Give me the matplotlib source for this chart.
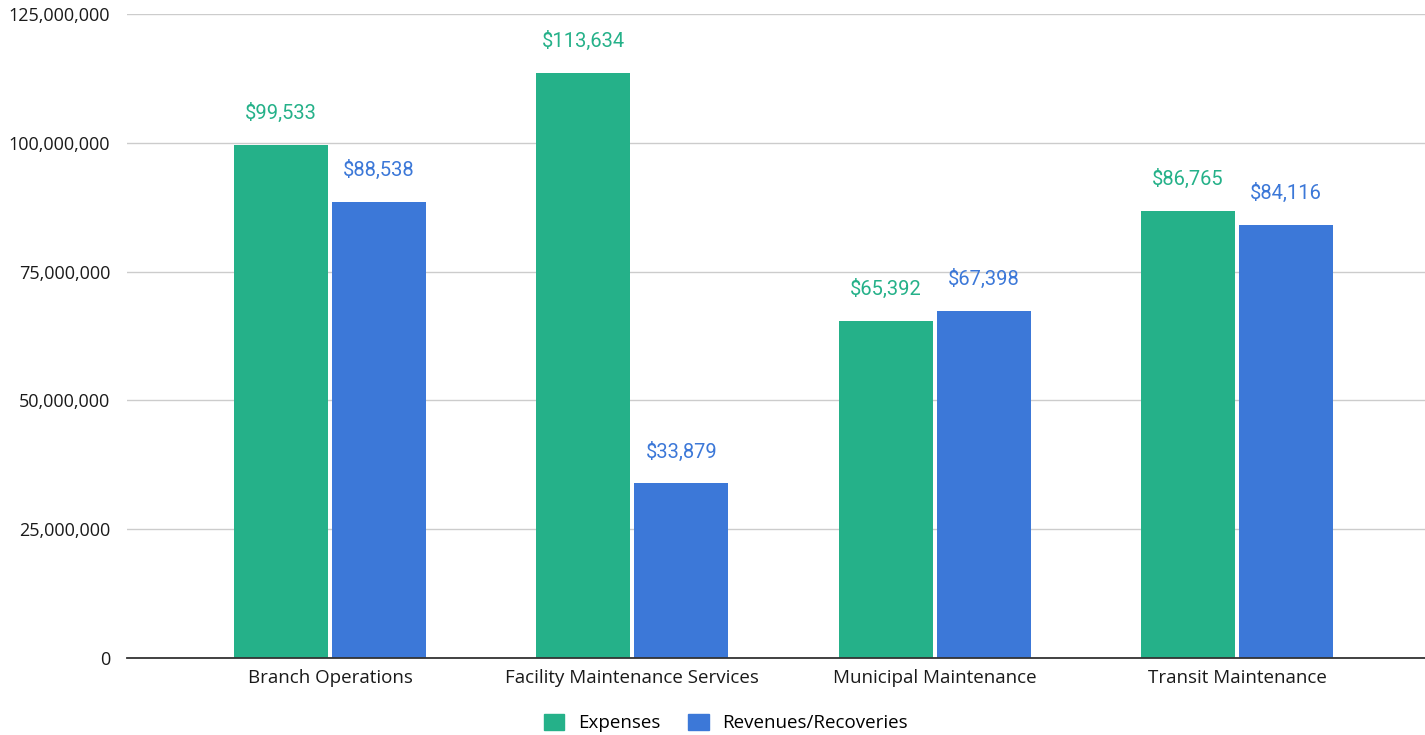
import matplotlib.pyplot as plt
from matplotlib.ticker import FuncFormatter
from matplotlib.patches import Patch
import numpy as np

# values in thousands of dollars
categories = ["Branch Operations", "Facility Maintenance Services",
              "Municipal Maintenance", "Transit Maintenance"]
expenses = [99533, 113634, 65392, 86765]
revenues = [88538, 33879, 67398, 84116]
series_names = ["Expenses", "Revenues/Recoveries"]
y_ticks = [0, 25000000, 50000000, 75000000, 100000000, 125000000]

GREEN = "#25b189"
BLUE = "#3c78d8"
TICK_FONT = "Open Sans"
LABEL_FONT = "Roboto"

fig = plt.figure(figsize=(14.25, 7.35), dpi=100)
ax = fig.add_axes([127 / 1425, 77 / 735, 1 - 127 / 1425, 644 / 735])

x = np.arange(len(categories))
w = 0.311
off = 0.162
exp_vals = np.array(expenses) * 1000
rev_vals = np.array(revenues) * 1000
ax.bar(x - off, exp_vals, w, color=GREEN, zorder=3)
ax.bar(x + off, rev_vals, w, color=BLUE, zorder=3)

for xi, v, raw in zip(x - off, exp_vals, expenses):
    ax.annotate(f"${raw:,}", (xi, v), xytext=(0, 22), textcoords="offset pixels",
                ha="center", va="bottom", color=GREEN, fontsize=14.5, family=LABEL_FONT)
for xi, v, raw in zip(x + off, rev_vals, revenues):
    ax.annotate(f"${raw:,}", (xi, v), xytext=(0, 22), textcoords="offset pixels",
                ha="center", va="bottom", color=BLUE, fontsize=14.5, family=LABEL_FONT)

ax.set_xlim(-0.6715, 3.622)
ax.set_ylim(0, 125000000)
ax.set_yticks(y_ticks)
ax.yaxis.set_major_formatter(FuncFormatter(lambda v, p: f"{int(v):,}"))
ax.set_xticks(x)
ax.set_xticklabels(categories)
for lab in ax.get_yticklabels():
    lab.set_fontfamily(TICK_FONT)
    lab.set_fontsize(13)
    lab.set_color("#1a1a1a")
for lab in ax.get_xticklabels():
    lab.set_fontfamily(TICK_FONT)
    lab.set_fontsize(13.5)
    lab.set_color("#1a1a1a")
ax.tick_params(axis="y", length=0, pad=12)
ax.tick_params(axis="x", length=0, pad=8)

ax.grid(axis="y", color="#cccccc", linewidth=1, zorder=0)
for s in ["top", "right", "left"]:
    ax.spines[s].set_visible(False)
ax.spines["bottom"].set_color("#333333")
ax.spines["bottom"].set_linewidth(1.3)
ax.spines["bottom"].set_zorder(4)

handles = [Patch(color=GREEN), Patch(color=BLUE)]
leg = fig.legend(handles, series_names, loc="center", ncol=2,
                 bbox_to_anchor=(726 / 1425, 12 / 735), frameon=False,
                 borderpad=0, handlelength=1.07, handleheight=1.0,
                 handletextpad=0.75, columnspacing=1.5,
                 prop={"family": TICK_FONT, "size": 13.5})

fig.savefig("out.png", dpi=100)
